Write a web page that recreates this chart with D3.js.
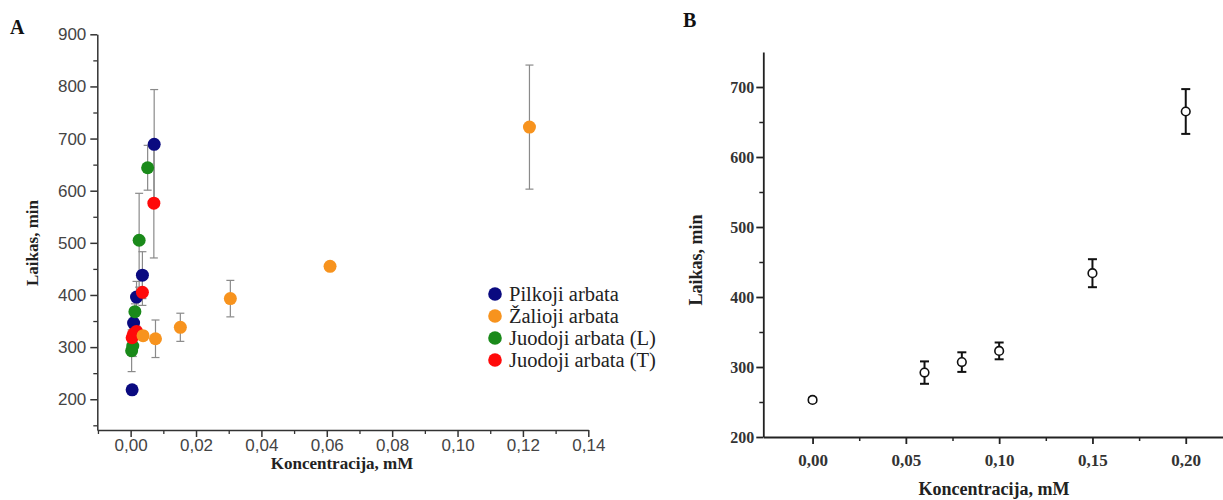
<!DOCTYPE html>
<html><head><meta charset="utf-8">
<script src="https://cdn.jsdelivr.net/npm/d3@7/dist/d3.min.js"></script>
<style>body{margin:0;background:#fff}svg{display:block}</style>
</head><body>
<svg id="c" width="1223" height="500"></svg>
<script>
// ---------- Panel A data ----------
const seriesNamesA = ["Pilkoji arbata", "Žalioji arbata", "Juodoji arbata (L)", "Juodoji arbata (T)"];
const seriesColorsA = ["#0a0a80", "#f7931e", "#1a8a1a", "#ff0a0a"];
const pilkojiX = [0.00045, 0.0009, 0.0018, 0.0036, 0.0072];
const pilkojiY = [218, 346, 396, 438, 689];
const pilkojiErr = [8, 10, 30, 45, 105];
const zaliojiX = [0.0038, 0.0076, 0.0152, 0.0305, 0.061, 0.122];
const zaliojiY = [322, 316, 338, 393, 455, 722];
const zaliojiErr = [8, 36, 27, 35, 5, 119];
const juodojiLX = [0.0003, 0.00065, 0.0013, 0.0026, 0.0052];
const juodojiLY = [293, 302, 368, 505, 644];
const juodojiLErr = [40, 20, 15, 90, 43];
const juodojiTX = [0.00045, 0.0009, 0.0018, 0.0036, 0.0071];
const juodojiTY = [318, 325, 330, 405, 576];
const juodojiTErr = [10, 10, 10, 25, 105];
const xTicksA = [0, 0.02, 0.04, 0.06, 0.08, 0.10, 0.12, 0.14];
const xTickLabelsA = ["0,00", "0,02", "0,04", "0,06", "0,08", "0,10", "0,12", "0,14"];
const yTicksA = [200, 300, 400, 500, 600, 700, 800, 900];
const yTickLabelsA = ["200", "300", "400", "500", "600", "700", "800", "900"];

// ---------- Panel B data ----------
const concB = [0.00, 0.06, 0.08, 0.10, 0.15, 0.20];
const timeB = [253, 292, 307, 323, 434, 665];
const errB = [3, 16, 14, 12, 20, 32];
const xTicksB = [0, 0.05, 0.10, 0.15, 0.20];
const xTickLabelsB = ["0,00", "0,05", "0,10", "0,15", "0,20"];
const yTicksB = [200, 300, 400, 500, 600, 700];
const yTickLabelsB = ["200", "300", "400", "500", "600", "700"];

const svg = d3.select("#c");

// ================= Panel A =================
{
  const x = d3.scaleLinear().domain([-0.0102, 0.14]).range([97.3, 588.3]);
  const y = d3.scaleLinear().domain([141, 900]).range([430, 34.3]);
  const g = svg.append("g");
  const axCol = "#333";
  const xMinor = d3.range(-0.01, 0.1401, 0.01).filter(v => xTicksA.every(t => Math.abs(t - v) > 1e-6));
  const yMinor = d3.range(150, 901, 50).filter(v => yTicksA.indexOf(v) < 0);
  g.append("g").attr("transform", "translate(0,430)")
    .call(d3.axisBottom(x).tickValues(xMinor).tickSize(4).tickFormat("").tickSizeOuter(0))
    .call(s => { s.select(".domain").remove(); s.selectAll("line").attr("stroke", axCol).attr("stroke-width", 1.3); });
  g.append("g").attr("transform", "translate(97.3,0)")
    .call(d3.axisLeft(y).tickValues(yMinor).tickSize(4).tickFormat("").tickSizeOuter(0))
    .call(s => { s.select(".domain").remove(); s.selectAll("line").attr("stroke", axCol).attr("stroke-width", 1.3); });
  const xa = g.append("g").attr("transform", "translate(0,430)")
    .call(d3.axisBottom(x).tickValues(xTicksA).tickSize(7).tickSizeOuter(0)
      .tickFormat((d, i) => xTickLabelsA[i]));
  xa.select(".domain").attr("stroke", axCol).attr("stroke-width", 1.5);
  xa.selectAll(".tick line").attr("stroke", axCol).attr("stroke-width", 1.5);
  xa.selectAll("text").attr("fill", "#444").attr("font-family", "Liberation Sans, Arial, sans-serif")
    .attr("font-size", 17).attr("dy", "0.71em").attr("y", 9);
  const ya = g.append("g").attr("transform", "translate(97.3,0)")
    .call(d3.axisLeft(y).tickValues(yTicksA).tickSize(7).tickSizeOuter(0)
      .tickFormat((d, i) => yTickLabelsA[i]));
  ya.select(".domain").attr("stroke", axCol).attr("stroke-width", 1.5);
  ya.selectAll(".tick line").attr("stroke", axCol).attr("stroke-width", 1.5);
  ya.selectAll("text").attr("fill", "#444").attr("font-family", "Liberation Sans, Arial, sans-serif")
    .attr("font-size", 17).attr("x", -11);

  const series = [
    {x: pilkojiX, y: pilkojiY, e: pilkojiErr, c: seriesColorsA[0]},
    {x: zaliojiX, y: zaliojiY, e: zaliojiErr, c: seriesColorsA[1]},
    {x: juodojiLX, y: juodojiLY, e: juodojiLErr, c: seriesColorsA[2]},
    {x: juodojiTX, y: juodojiTY, e: juodojiTErr, c: seriesColorsA[3]}
  ].map(s => ({c: s.c, pts: s.x.map((v, i) => ({x: v, y: s.y[i], e: s.e[i]}))}));

  const eg = g.append("g").attr("stroke", "#8a8a8a").attr("stroke-width", 1.2);
  series.forEach(s => s.pts.forEach(p => {
    const cx = x(p.x), y1 = y(p.y + p.e), y2 = y(p.y - p.e);
    eg.append("line").attr("x1", cx).attr("x2", cx).attr("y1", y1).attr("y2", y2);
    eg.append("line").attr("x1", cx - 4).attr("x2", cx + 4).attr("y1", y1).attr("y2", y1);
    eg.append("line").attr("x1", cx - 4).attr("x2", cx + 4).attr("y1", y2).attr("y2", y2);
  }));
  const order = [0, 2, 3, 1];
  order.forEach(k => {
    g.append("g").selectAll("circle").data(series[k].pts).join("circle")
      .attr("cx", d => x(d.x)).attr("cy", d => y(d.y)).attr("r", 6.5).attr("fill", series[k].c);
  });

  const lg = g.append("g");
  seriesNamesA.forEach((n, i) => {
    const ly = 294 + i * 22;
    lg.append("circle").attr("cx", 495).attr("cy", ly).attr("r", 6.8).attr("fill", seriesColorsA[i]);
    lg.append("text").attr("x", 509).attr("y", ly).attr("dy", "0.35em").text(n)
      .attr("font-family", "Liberation Serif, Times New Roman, serif").attr("font-size", 20.5).attr("fill", "#222");
  });

  g.append("text").attr("x", 342).attr("y", 469).attr("text-anchor", "middle").text("Koncentracija, mM")
    .attr("font-family", "Liberation Serif, serif").attr("font-weight", "bold").attr("font-size", 17).attr("fill", "#222");
  g.append("text").attr("transform", "translate(38,243) rotate(-90)").attr("text-anchor", "middle").text("Laikas, min")
    .attr("font-family", "Liberation Serif, serif").attr("font-weight", "bold").attr("font-size", 17).attr("fill", "#222");
  g.append("text").attr("x", 10).attr("y", 34).text("A")
    .attr("font-family", "Liberation Serif, serif").attr("font-weight", "bold").attr("font-size", 20).attr("fill", "#111");
}

// ================= Panel B =================
{
  const x = d3.scaleLinear().domain([-0.0264, 0.2205]).range([763.3, 1224]);
  const y = d3.scaleLinear().domain([200, 750]).range([437, 52]);
  const g = svg.append("g");
  const axCol = "#222";
  const xMinor = [0.025, 0.075, 0.125, 0.175];
  const yMinor = [250, 350, 450, 550, 650];
  g.append("g").attr("transform", "translate(0,437)")
    .call(d3.axisBottom(x).tickValues(xMinor).tickSize(4).tickFormat("").tickSizeOuter(0))
    .call(s => { s.select(".domain").remove(); s.selectAll("line").attr("stroke", axCol).attr("stroke-width", 1.5); });
  g.append("g").attr("transform", "translate(763.3,0)")
    .call(d3.axisLeft(y).tickValues(yMinor).tickSize(4).tickFormat("").tickSizeOuter(0))
    .call(s => { s.select(".domain").remove(); s.selectAll("line").attr("stroke", axCol).attr("stroke-width", 1.5); });
  const xa = g.append("g").attr("transform", "translate(0,437)")
    .call(d3.axisBottom(x).tickValues(xTicksB).tickSize(7).tickSizeOuter(0)
      .tickFormat((d, i) => xTickLabelsB[i]));
  xa.select(".domain").attr("stroke", axCol).attr("stroke-width", 1.8);
  xa.selectAll(".tick line").attr("stroke", axCol).attr("stroke-width", 1.8);
  xa.selectAll("text").attr("fill", "#333").attr("font-family", "Liberation Serif, serif").attr("font-weight", "bold")
    .attr("font-size", 17).attr("y", 17);
  const ya = g.append("g").attr("transform", "translate(763.3,0)")
    .call(d3.axisLeft(y).tickValues(yTicksB).tickSize(7).tickSizeOuter(0)
      .tickFormat((d, i) => yTickLabelsB[i]));
  ya.select(".domain").attr("stroke", axCol).attr("stroke-width", 1.8);
  ya.selectAll(".tick line").attr("stroke", axCol).attr("stroke-width", 1.8);
  ya.selectAll("text").attr("fill", "#333").attr("font-family", "Liberation Serif, serif").attr("font-weight", "bold")
    .attr("font-size", 16).attr("x", -9);

  const pts = concB.map((c, i) => ({x: c, y: timeB[i], e: errB[i]}));
  const eg = g.append("g").attr("stroke", "#111").attr("stroke-width", 2);
  pts.forEach(p => {
    const cx = x(p.x), y1 = y(p.y + p.e), y2 = y(p.y - p.e);
    eg.append("line").attr("x1", cx).attr("x2", cx).attr("y1", y1).attr("y2", y2);
    eg.append("line").attr("x1", cx - 4.5).attr("x2", cx + 4.5).attr("y1", y1).attr("y2", y1);
    eg.append("line").attr("x1", cx - 4.5).attr("x2", cx + 4.5).attr("y1", y2).attr("y2", y2);
  });
  g.append("g").selectAll("circle").data(pts).join("circle")
    .attr("cx", d => x(d.x)).attr("cy", d => y(d.y)).attr("r", 4.3)
    .attr("fill", "#fff").attr("stroke", "#111").attr("stroke-width", 1.6);

  g.append("text").attr("x", 994).attr("y", 495).attr("text-anchor", "middle").text("Koncentracija, mM")
    .attr("font-family", "Liberation Serif, serif").attr("font-weight", "bold").attr("font-size", 18).attr("fill", "#222");
  g.append("text").attr("transform", "translate(702,260) rotate(-90)").attr("text-anchor", "middle").text("Laikas, min")
    .attr("font-family", "Liberation Serif, serif").attr("font-weight", "bold").attr("font-size", 18).attr("fill", "#222");
  g.append("text").attr("x", 683).attr("y", 27).text("B")
    .attr("font-family", "Liberation Serif, serif").attr("font-weight", "bold").attr("font-size", 20).attr("fill", "#111");
}
</script>
</body></html>
